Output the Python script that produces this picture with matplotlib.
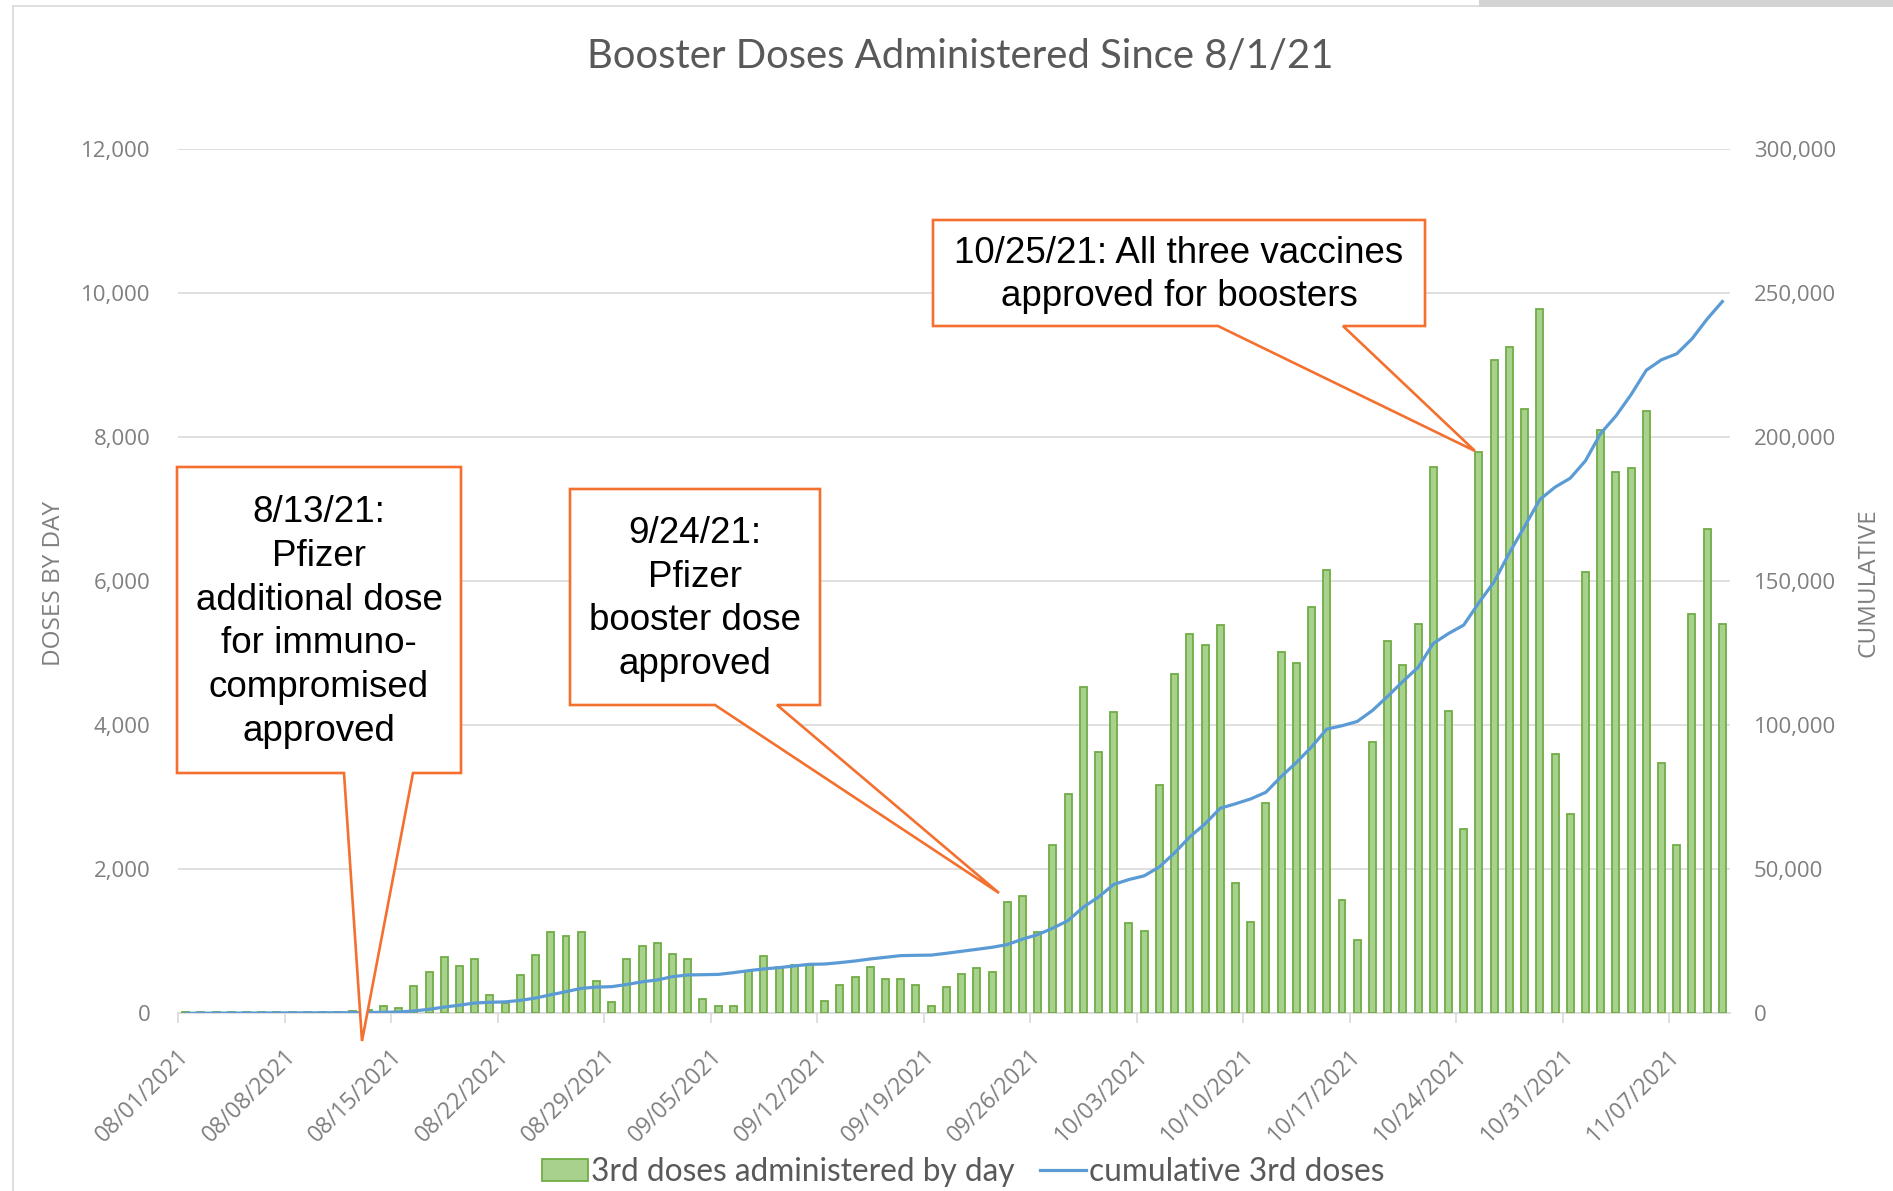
import numpy as np
import pandas as pd
import matplotlib
matplotlib.use('Agg')
import matplotlib.pyplot as plt
from matplotlib.patches import Patch, Polygon, Rectangle
from matplotlib.lines import Line2D
from matplotlib.transforms import offset_copy

# daily 3rd doses, one value per day starting 08/01/2021
daily = [15, 20, 15, 20, 15, 20, 15, 20, 15, 20, 15, 30, 40,
         100, 75, 380, 575, 780, 650, 755, 250, 140, 530, 805, 1135, 1080, 1135,
         450, 150, 752, 928, 972, 824, 750, 194, 101, 101, 592, 800, 647, 671,
         671, 171, 393, 500, 647, 472, 472, 393, 101, 370, 546, 625, 569,
         1550, 1622, 1122, 2332, 3040, 4524, 3621, 4178, 1248, 1145, 3167,
         4705, 5262, 5107, 5386, 1806, 1274, 2915, 5014, 4859, 5643, 6149,
         1573, 1020, 3770, 5175, 4830, 5411, 7588, 4195, 2557, 7795, 9074,
         9247, 8397, 9779, 3594, 2764, 6130, 8099, 7519, 7567, 8362, 3469,
         2336, 5549, 6724, 5411]

# cumulative 3rd doses (right axis)
cumulative = [15, 35, 50, 70, 85, 105, 120, 140, 155, 175, 190, 220, 260,
              360, 435, 815, 1390, 2170, 2820, 3575, 3825, 3965, 4495, 5300,
              6435, 7515, 8650, 9100, 9250, 10000, 10930, 11570, 12730, 13300,
              13400, 13500, 14100, 14800, 15400, 15850, 16430, 17000, 17100,
              17590, 18160, 18860, 19440, 20020, 20130, 20200, 20830, 21520,
              22210, 22910, 23850, 25740, 27300, 29560, 32200, 36850, 40370,
              44750, 46430, 47720, 50810, 55710, 61260, 65770, 71180, 72730,
              74410, 76730, 82150, 87050, 92460, 98650, 99810, 101300, 105100,
              110000, 115200, 120080, 128370, 131820, 134760, 142540, 149790,
              159810, 168970, 178300, 182620, 185730, 191780, 201280, 207320,
              214750, 223220, 226850, 228920, 234100, 241010, 247060]

dates = pd.date_range('2021-08-01', periods=len(daily), freq='D')
tick_labels = ['08/01/2021', '08/08/2021', '08/15/2021', '08/22/2021',
               '08/29/2021', '09/05/2021', '09/12/2021', '09/19/2021',
               '09/26/2021', '10/03/2021', '10/10/2021', '10/17/2021',
               '10/24/2021', '10/31/2021', '11/07/2021']
left_ticks = [0, 2000, 4000, 6000, 8000, 10000, 12000]
right_ticks = [0, 50000, 100000, 150000, 200000, 250000, 300000]

W, H = 1893, 1191
GRAY = '#7f7f7f'
ORANGE = '#f4702f'
tick_font = 'Open Sans'

fig = plt.figure(figsize=(W / 100, H / 100), dpi=100)
fig.patch.set_facecolor('white')

ax = fig.add_axes([178 / W, 1 - 1013.3 / H, (1730 - 178) / W, (1013.3 - 149) / H])
x = np.arange(len(dates))
ax.bar(x, daily, width=0.46, color='#a9d18e', edgecolor='#70ad47', linewidth=1.3, zorder=3)
ax.set_xlim(-0.5, len(daily) - 0.5)
ax.set_ylim(0, 12000)
ax.set_yticks(left_ticks)
ax.set_yticklabels([f'{v:,}' for v in left_ticks], family=tick_font, fontsize=16, color=GRAY)
ax.tick_params(axis='y', length=0, pad=20)
ax.grid(axis='y', color='#d9d9d9', linewidth=1.2)
ax.set_axisbelow(True)
for s in ['left', 'right', 'top']:
    ax.spines[s].set_visible(False)
ax.spines['bottom'].set_color('#d9d9d9')
ax.spines['bottom'].set_linewidth(1.2)

label_pos = np.arange(0, len(daily), 7)
ax.set_xticks(label_pos - 0.5)
ax.set_xticklabels([])
ax.tick_params(axis='x', length=7, width=1.2, color='#d9d9d9')
trans = offset_copy(ax.transData, fig=fig, x=0, y=-40, units='dots')
for p, lab in zip(label_pos, tick_labels):
    ax.text(p, 0, lab, transform=trans, rotation=45, rotation_mode='anchor',
            ha='right', va='center', family=tick_font, fontsize=16.5, color=GRAY)

ax2 = ax.twinx()
ax2.plot(x, cumulative, color='#5b9bd5', linewidth=2.3, zorder=4)
ax2.set_ylim(0, 300000)
ax2.set_yticks(right_ticks)
ax2.set_yticklabels([f'{v:,}' for v in right_ticks], family=tick_font, fontsize=16, color=GRAY)
ax2.tick_params(axis='y', length=0, pad=17)
for s in ['left', 'right', 'top', 'bottom']:
    ax2.spines[s].set_visible(False)

fig.text(960 / W, 1 - 57 / H, 'Booster Doses Administered Since 8/1/21',
         ha='center', va='center', family='Lato', fontsize=28.8, color='#595959')
fig.text(54 / W, 1 - 584 / H, 'DOSES BY DAY', rotation=90, ha='center', va='center',
         family=tick_font, fontsize=17.5, color=GRAY)
fig.text(1868 / W, 1 - 583 / H, 'CUMULATIVE', rotation=90, ha='center', va='center',
         family=tick_font, fontsize=17.5, color=GRAY)

handles = [Patch(facecolor='#a9d18e', edgecolor='#70ad47', linewidth=1.3),
           Line2D([0], [0], color='#5b9bd5', linewidth=2.3)]
fig.legend(handles, ['3rd doses administered by day', 'cumulative 3rd doses'],
           loc='center', bbox_to_anchor=(963 / W, 1 - 1172 / H), ncol=2, frameon=False,
           prop={'family': 'Lato', 'size': 22.8}, labelcolor='#595959',
           handlelength=1.45, handletextpad=0.1, columnspacing=0.8)

# overlay in pixel coordinates for callouts and frame
ov = fig.add_axes([0, 0, 1, 1])
ov.set_xlim(0, W)
ov.set_ylim(H, 0)
ov.axis('off')
ov.patch.set_alpha(0)

ov.plot([13, 13], [6, H], color='#d9d9d9', linewidth=1.2)
ov.plot([13, 1479], [6, 6], color='#d9d9d9', linewidth=1.2)
ov.add_patch(Rectangle((1479, 0), W - 1479, 7, color='#d4d4d4', linewidth=0))

callouts = [
    ([(177, 467), (461, 467), (461, 773), (413, 773), (362, 1041), (344, 773), (177, 773)],
     (319, 622), '8/13/21:\nPfizer\nadditional dose\nfor immuno-\ncompromised\napproved'),
    ([(570, 489), (820, 489), (820, 705), (777, 705), (999, 893), (715, 705), (570, 705)],
     (695, 599), '9/24/21:\nPfizer\nbooster dose\napproved'),
    ([(933, 220), (1425, 220), (1425, 326), (1343, 326), (1475, 451), (1218, 326), (933, 326)],
     (1179, 275), '10/25/21: All three vaccines\napproved for boosters'),
]
for verts, (tx, ty), txt in callouts:
    ov.add_patch(Polygon(verts, closed=True, facecolor='white', edgecolor=ORANGE,
                         linewidth=1.9, joinstyle='miter'))
    ov.text(tx, ty, txt, ha='center', va='center', multialignment='center',
            family='Liberation Sans', fontsize=26.5, color='black', linespacing=1.33)

fig.savefig('out.png', dpi=100)
